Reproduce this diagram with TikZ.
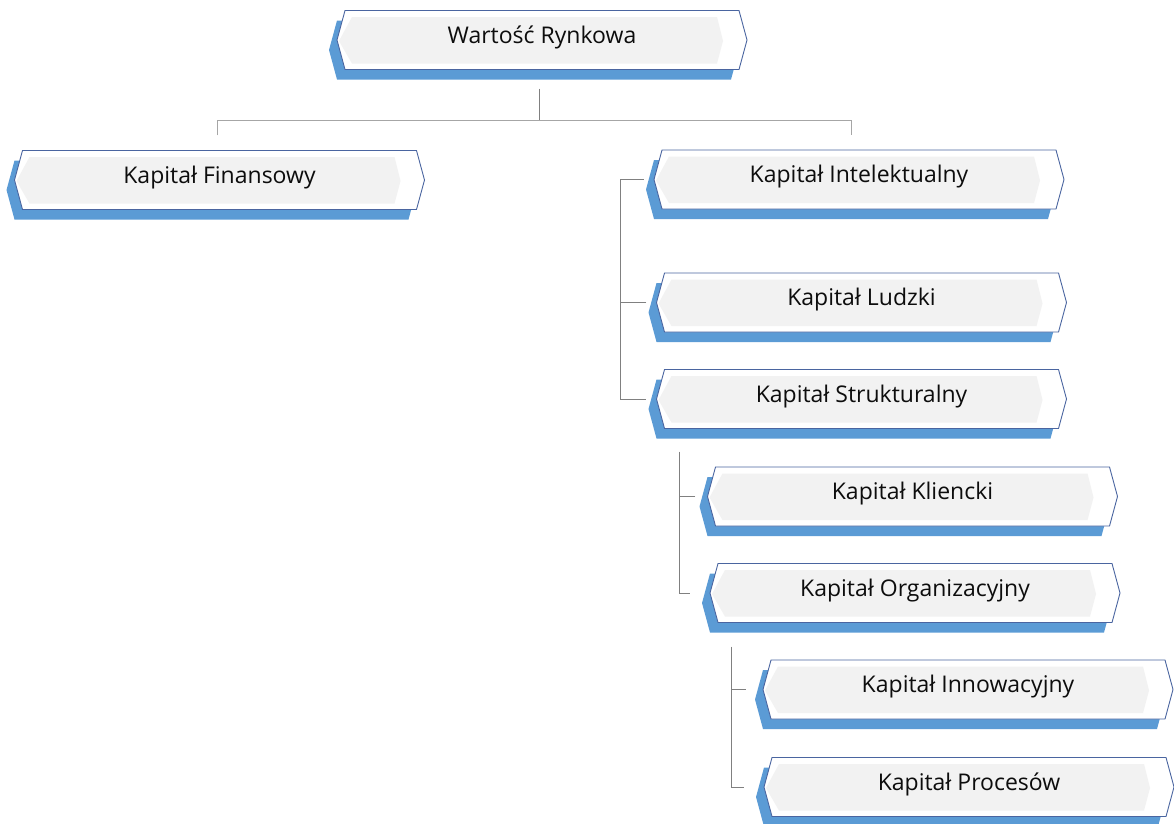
\documentclass[tikz,border=0pt]{standalone}
\usepackage{fontspec}
\setmainfont{Open Sans}
\usetikzlibrary{calc}
\definecolor{shadowblue}{HTML}{5B9BD5}
\definecolor{rimblue}{HTML}{4A65A0}
\definecolor{panelgrey}{HTML}{F2F2F2}
\definecolor{linkgrey}{HTML}{808080}
\definecolor{linklight}{HTML}{A6A6A6}
\tikzset{
  boxshadow/.style={fill=shadowblue},
  boxrim/.style={fill=white, draw=rimblue, line width=0.9pt, line join=miter},
  boxpanel/.style={fill=panelgrey},
  boxtext/.style={rectangle, minimum width=410pt, minimum height=59pt, inner sep=0pt,
    text height=13pt, text depth=7pt, font=\fontsize{23}{27}\selectfont, text=black!95},
  link/.style={draw=linkgrey, line width=0.9pt},
  lightlink/.style={draw=linklight, line width=0.9pt},
}
% hexagonal capital box: name, centre x, centre y, label
\newcommand\capbox[4]{%
  \begin{scope}[shift={(#2,#3)}]
    \fill[boxshadow] (-213,10) -- (-205,-19.5) -- (189,-19.5) -- (197,10) -- (189,39.5) -- (-205,39.5) -- cycle;
    \path[boxrim] (-205,0) -- (-197,-29.5) -- (197,-29.5) -- (205,0) -- (197,29.5) -- (-197,29.5) -- cycle;
    \fill[boxpanel] (-203,1) -- (-190,-23) -- (175,-23) -- (181,1) -- (175,23.5) -- (-190,23.5) -- cycle;
  \end{scope}
  \node[boxtext] (#1) at (#2,#3) {#4};
}
\begin{document}
\begin{tikzpicture}[x=1pt, y=-1pt]
  \useasboundingbox (0,0) rectangle (1174,823);

  \capbox{W}{542}{40}{Wartość Rynkowa}
  \capbox{F}{219.5}{180}{Kapitał Finansowy}
  \capbox{I}{859}{179.5}{Kapitał Intelektualny}
  \capbox{L}{861.5}{302.5}{Kapitał Ludzki}
  \capbox{S}{861.5}{399}{Kapitał Strukturalny}
  \capbox{Kl}{912.5}{496.5}{Kapitał Kliencki}
  \capbox{O}{915}{593}{Kapitał Organizacyjny}
  \capbox{In}{968}{689.5}{Kapitał Innowacyjny}
  \capbox{P}{969}{787}{Kapitał Procesów}

  % top level split
  \draw[link] ($(W.south)+(-3,19)$) -- ++(0,32) coordinate (wj);
  \draw[lightlink] ($(F.north)+(-2,-15)$) |- (wj) -| ($(I.north)+(-8,-15)$);

  % intellectual capital branch
  \draw[link] ($(I.west)+(-10,0)$) -- ++(-23,0) coordinate (iv) |- ($(S.west)+(-10,0)$);
  \draw[link] ($(L.west)+(-10,0)$) -- (L.west -| iv);

  % structural capital branch
  \draw[link] ($(S.south west)+(23,23)$) coordinate (sv) |- ($(O.west)+(-20,0)$);
  \draw[link] ($(Kl.west)+(-12,0)$) -- (Kl.west -| sv);

  % organisational capital branch
  \draw[link] ($(O.south west)+(22,24)$) coordinate (ov) |- ($(P.west)+(-20,0)$);
  \draw[link] ($(In.west)+(-17,0)$) -- (In.west -| ov);
\end{tikzpicture}
\end{document}
